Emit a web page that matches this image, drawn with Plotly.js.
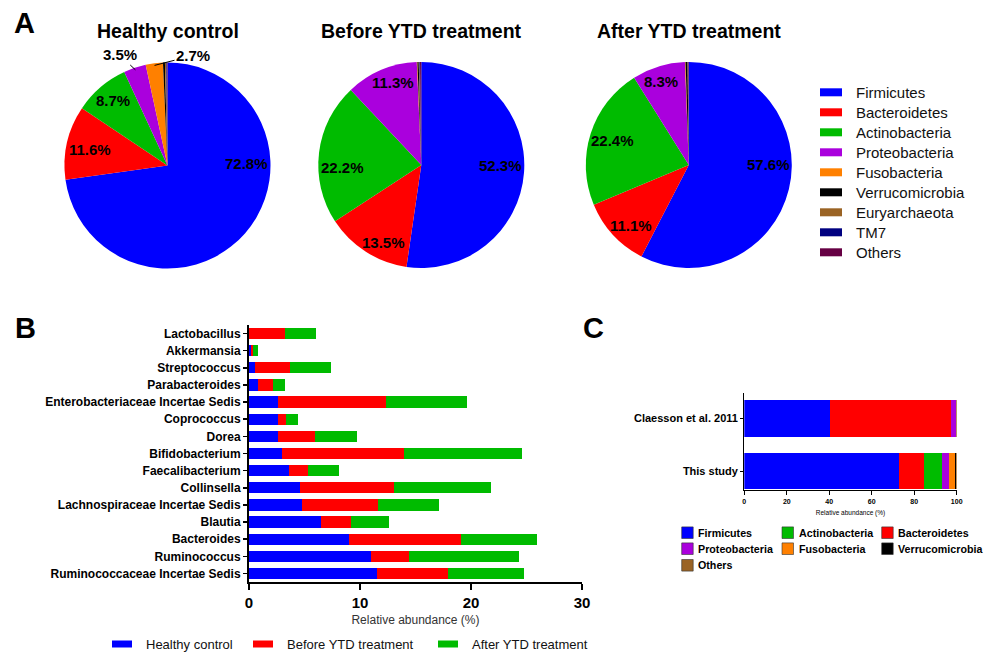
<!DOCTYPE html>
<html>
<head>
<meta charset="utf-8">
<script src="https://cdn.plot.ly/plotly-3.0.1.min.js"></script>
<style>html,body{margin:0;padding:0;background:#fff;}#chart{width:984px;height:655px;}</style>
</head>
<body>
<div id="chart"></div>
<script>
// ---------- DATA ----------
const phyla = ['Firmicutes','Bacteroidetes','Actinobacteria','Proteobacteria','Fusobacteria','Verrucomicrobia','Euryarchaeota','TM7','Others'];
const phylumColors = ['#0000FF','#FF0000','#00BB00','#AA00DD','#FF8000','#000000','#9A6324','#000080','#660044'];
const pieTitles = ['Healthy control','Before YTD treatment','After YTD treatment'];
const healthyPhyla = [72.8, 11.6, 8.7, 3.5, 2.7, 0.3, 0.2, 0.1, 0.1];
const beforePhyla  = [52.3, 13.5, 22.2, 11.3, 0.1, 0.2, 0.1, 0.1, 0.2];
const afterPhyla   = [57.6, 11.1, 22.4, 8.3, 0.1, 0.3, 0.05, 0.05, 0.1];

const genera = ['Lactobacillus','Akkermansia','Streptococcus','Parabacteroides','Enterobacteriaceae Incertae Sedis',
  'Coprococcus','Dorea','Bifidobacterium','Faecalibacterium','Collinsella','Lachnospiraceae Incertae Sedis',
  'Blautia','Bacteroides','Ruminococcus','Ruminococcaceae Incertae Sedis'];
const groupNames = ['Healthy control','Before YTD treatment','After YTD treatment'];
const groupColors = ['#0000FF','#FF0000','#00BB00'];
const healthyGenera = [0.0, 0.2, 0.57, 0.81, 2.59, 2.59, 2.65, 2.95, 3.58, 4.57, 4.75, 6.47, 9.03, 10.98, 11.53];
const beforeGenera  = [3.2, 0.2, 3.16, 1.39, 9.78, 0.75, 3.28, 11.01, 1.72, 8.49, 6.87, 2.71, 10.08, 3.40, 6.44];
const afterGenera   = [2.8, 0.4, 3.70, 1.05, 7.28, 1.08, 3.82, 10.63, 2.83, 8.73, 5.50, 3.43, 6.83, 9.97, 6.77];

const studies = ['This study','Claesson et al. 2011'];
const compPhyla = ['Firmicutes','Bacteroidetes','Actinobacteria','Proteobacteria','Fusobacteria','Verrucomicrobia','Others'];
const compColors = ['#0000FF','#FF0000','#00BB00','#AA00DD','#FF8000','#000000','#9A6324'];
const thisStudyComp = [72.8, 11.6, 8.7, 3.5, 2.7, 0.3, 0.4];
const claessonComp  = [40.3, 57.0, 0.2, 2.3, 0.0, 0.1, 0.1];
const compLegendOrder = ['Firmicutes','Actinobacteria','Bacteroidetes','Proteobacteria','Fusobacteria','Verrucomicrobia','Others'];

// ---------- LAYOUT HELPERS ----------
const W = 984, H = 655;
const px = x => x / W;
const py = y => 1 - y / H;
const FONT = 'Liberation Sans, Arial, sans-serif';

const traces = [];
const annotations = [];
const shapes = [];

// ---------- PANEL A: pies ----------
const pieData = [healthyPhyla, beforePhyla, afterPhyla];
const pieCenters = [[167.5,165.5],[421.3,165],[688.8,165]];
const R = 103;
// label placement (pixel offsets from pie centre); null = no label; 'out' entries get a leader line
const labelPlace = [
  [[79.3,-2.2],[-77.5,-16.5],[-55,-64.7],{out:[-48,-110.5]},{out:[25.5,-110]},null,null,null,null],
  [[79.5,0.7],[-37.5,77.5],[-78.5,2.5],[-28.5,-82.5],null,null,null,null,null],
  [[79.9,0],[-57.6,60],[-76,-24.2],[-28,-83.3],null,null,null,null,null]
];
pieData.forEach((vals, k) => {
  const [cx, cy] = pieCenters[k];
  traces.push({
    type: 'pie', labels: phyla, values: vals, sort: false, direction: 'clockwise', rotation: 0,
    marker: {colors: phylumColors, line: {width: 0}},
    domain: {x: [px(cx - R), px(cx + R)], y: [py(cy + R), py(cy - R)]},
    textinfo: 'none', showlegend: false, hoverinfo: 'label+value'
  });
  annotations.push({text: pieTitles[k], x: px(cx), y: py(31.5), xref: 'paper', yref: 'paper',
    showarrow: false, font: {family: FONT, size: 19.5, color: '#000', weight: 700}, xanchor: 'center', yanchor: 'middle'});
  const total = vals.reduce((a, b) => a + b, 0);
  let cum = 0;
  vals.forEach((v, i) => {
    const mid = (cum + v / 2) / total * 2 * Math.PI;
    cum += v;
    const pl = labelPlace[k][i];
    if (!pl) return;
    const txt = v.toFixed(1) + '%';
    const lf = {family: FONT, size: 15, color: '#000', weight: 700};
    if (pl.out) {
      const hx = cx + R * 0.98 * Math.sin(mid), hy = cy - R * 0.98 * Math.cos(mid);
      const tx = cx + pl.out[0], ty = cy + pl.out[1];
      annotations.push({text: txt, x: px(hx), y: py(hy), xref: 'paper', yref: 'paper', showarrow: true,
        arrowhead: 0, arrowwidth: 1, arrowcolor: '#000', ax: tx - hx, ay: ty - hy, standoff: 0, font: lf});
    } else {
      annotations.push({text: txt, x: px(cx + pl[0]), y: py(cy + pl[1]), xref: 'paper', yref: 'paper',
        showarrow: false, xanchor: 'center', yanchor: 'middle', font: lf});
    }
  });
});
// pie legend
phyla.forEach((p, i) => {
  const yc = 92.3 + 20 * i;
  shapes.push({type: 'rect', xref: 'paper', yref: 'paper', x0: px(820), x1: px(842), y0: py(yc + 4), y1: py(yc - 4),
    fillcolor: phylumColors[i], line: {width: 0}});
  annotations.push({text: p, x: px(854), y: py(yc), xref: 'paper', yref: 'paper', showarrow: false,
    xanchor: 'left', yanchor: 'middle', font: {family: FONT, size: 15, color: '#111'}});
});

// ---------- PANEL B: stacked bars ----------
[healthyGenera, beforeGenera, afterGenera].forEach((vals, k) => {
  traces.push({type: 'bar', orientation: 'h', y: genera, x: vals, name: groupNames[k],
    marker: {color: groupColors[k], line: {width: 0}}, width: 0.66, xaxis: 'x', yaxis: 'y', showlegend: false});
});
const bLegX = [112, 253, 438];
groupNames.forEach((g, i) => {
  const yc = 644;
  shapes.push({type: 'rect', xref: 'paper', yref: 'paper', x0: px(bLegX[i]), x1: px(bLegX[i] + 20), y0: py(yc + 3.5), y1: py(yc - 3.5),
    fillcolor: groupColors[i], line: {width: 0}});
  annotations.push({text: g, x: px(bLegX[i] + 32), y: py(yc), xref: 'paper', yref: 'paper', showarrow: false,
    xanchor: 'left', yanchor: 'middle', font: {family: FONT, size: 13, color: '#111'}});
});

// ---------- PANEL C: comparison bars ----------
compPhyla.forEach((p, i) => {
  traces.push({type: 'bar', orientation: 'h', y: studies, x: [thisStudyComp[i], claessonComp[i]], name: p,
    marker: {color: compColors[i], line: {width: 0}}, width: 0.69, xaxis: 'x2', yaxis: 'y2', showlegend: false});
});
const cColX = [681.7, 782, 881.7];
const cRowY = [532.7, 548.7, 565.3];
compLegendOrder.forEach((p, i) => {
  const col = i % 3, row = Math.floor(i / 3);
  const ci = compPhyla.indexOf(p);
  const x0 = cColX[col], yc = cRowY[row];
  shapes.push({type: 'rect', xref: 'paper', yref: 'paper', x0: px(x0), x1: px(x0 + 11.5), y0: py(yc + 5.8), y1: py(yc - 5.8),
    fillcolor: compColors[ci], line: {width: 0.6, color: '#333'}});
  annotations.push({text: p, x: px(x0 + 14.5), y: py(yc), xref: 'paper', yref: 'paper', showarrow: false,
    xanchor: 'left', yanchor: 'middle', font: {family: FONT, size: 10.7, color: '#000', weight: 700}});
});

// panel letters
[['A', 24, 22.5], ['B', 25, 328], ['C', 593, 328]].forEach(([t, x, y]) => {
  annotations.push({text: t, x: px(x), y: py(y), xref: 'paper', yref: 'paper', showarrow: false,
    xanchor: 'center', yanchor: 'middle', font: {family: FONT, size: 29, color: '#000', weight: 700}});
});

const layout = {
  width: W, height: H, margin: {l: 0, r: 0, t: 0, b: 0}, paper_bgcolor: '#fff', plot_bgcolor: 'rgba(0,0,0,0)',
  barmode: 'stack', showlegend: false, font: {family: FONT},
  xaxis: {domain: [px(249), px(582)], anchor: 'y', range: [0, 30], dtick: 10, showgrid: false, zeroline: false,
    showline: true, linewidth: 2, linecolor: '#000', ticks: 'outside', ticklen: 6, tickwidth: 2, tickcolor: '#000',
    tickfont: {family: FONT, size: 15, color: '#000', weight: 700},
    title: {text: 'Relative abundance (%)', font: {family: FONT, size: 12, color: '#333'}, standoff: 6}},
  yaxis: {domain: [py(582), py(325)], anchor: 'x', range: [14.5, -0.5], type: 'category', showgrid: false, zeroline: false,
    showline: true, linewidth: 2, linecolor: '#000', ticks: 'outside', ticklen: 4, tickwidth: 1.5, tickcolor: '#000',
    tickfont: {family: FONT, size: 12, color: '#000', weight: 700}},
  xaxis2: {domain: [px(744.3), px(956.7)], anchor: 'y2', range: [0, 100], dtick: 20, showgrid: false, zeroline: false,
    showline: true, linewidth: 1.2, linecolor: '#000', ticks: 'outside', ticklen: 4, tickwidth: 1, tickcolor: '#000',
    tickfont: {family: FONT, size: 7, color: '#000', weight: 700},
    title: {text: 'Relative abundance (%)', font: {family: FONT, size: 6.5, color: '#000'}, standoff: 6}},
  yaxis2: {domain: [py(490), py(393.3)], anchor: 'x2', range: [-0.355, 1.48], type: 'category', showgrid: false, zeroline: false,
    showline: true, linewidth: 1.2, linecolor: '#000', ticks: 'outside', ticklen: 3, tickwidth: 1, tickcolor: '#000',
    tickfont: {family: FONT, size: 11, color: '#000', weight: 700}},
  annotations: annotations, shapes: shapes
};

Plotly.newPlot('chart', traces, layout, {displayModeBar: false, staticPlot: true});
</script>
</body>
</html>
